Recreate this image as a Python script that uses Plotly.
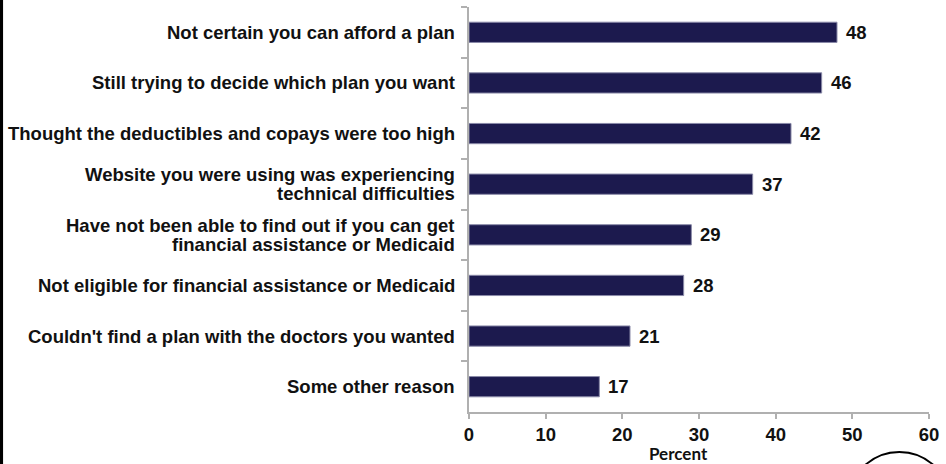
import plotly.graph_objects as go

categories = [
    "Not certain you can afford a plan",
    "Still trying to decide which plan you want",
    "Thought the deductibles and copays were too high",
    "Website you were using was experiencing\ntechnical difficulties",
    "Have not been able to find out if you can get\nfinancial assistance or Medicaid",
    "Not eligible for financial assistance or Medicaid",
    "Couldn't find a plan with the doctors you wanted",
    "Some other reason",
]
values = [48, 46, 42, 37, 29, 28, 21, 17]
x_ticks = [0, 10, 20, 30, 40, 50, 60]
x_title = "Percent"

FONT = "Liberation Sans, Arial, sans-serif"
FS = 18.5

fig = go.Figure()
fig.add_trace(go.Bar(
    x=values, y=categories, orientation="h",
    marker=dict(color="#1c1a4e", line=dict(color="#8a8aa8", width=1)),
    hoverinfo="x+y",
))

annotations = []
for cat, v in zip(categories, values):
    lines = cat.split("\n")
    n = len(lines)
    for i, ln in enumerate(lines):
        annotations.append(dict(
            x=0, xref="paper", y=cat, yref="y", text="<b>%s</b>" % ln,
            xanchor="right", yanchor="middle", xshift=-12,
            yshift=((n - 1) / 2 - i) * 19,
            showarrow=False, font=dict(family=FONT, size=FS, color="#111111"),
        ))
    annotations.append(dict(
        x=v, xref="x", y=cat, yref="y", text="<b>%d</b>" % v,
        xanchor="left", yanchor="middle", xshift=7,
        showarrow=False, font=dict(family=FONT, size=FS, color="#111111"),
    ))

W, H = 946, 464
ml, mr, mt, mb = 469, 12, 7, 52
ph = H - mt - mb
pw = W - ml - mr

annotations.append(dict(
    x=(681 - ml) / pw, xref="paper", y=(H - mb - 453) / ph, yref="paper",
    text="<b>%s</b>" % x_title, xanchor="center", yanchor="middle",
    showarrow=False, font=dict(family="Lato, Calibri, sans-serif", size=17, color="#111111"),
))

shapes = [
    dict(type="rect", xref="paper", yref="paper",
         x0=(-20 - ml) / pw, x1=(-2 - ml) / pw, y0=-0.3, y1=1.2,
         fillcolor="#000000", line=dict(width=0), layer="above"),
    dict(type="circle", xref="paper", yref="paper",
         x0=(904 - 53 - ml) / pw, x1=(904 + 53 - ml) / pw,
         y0=(H - mb - 506 - 54) / ph, y1=(H - mb - 506 + 54) / ph,
         line=dict(color="#000000", width=2)),
]

fig.update_layout(
    width=W, height=H,
    margin=dict(l=ml, r=mr, t=mt, b=mb, pad=0),
    paper_bgcolor="white", plot_bgcolor="white",
    showlegend=False, bargap=0.6,
    annotations=annotations, shapes=shapes,
    xaxis=dict(
        range=[0, 60], tickvals=x_ticks, ticktext=["<b>%d</b>" % t for t in x_ticks],
        showgrid=False, zeroline=False, showline=True, linecolor="#b0b0b0", linewidth=2,
        ticks="outside", ticklen=5, tickwidth=1.5, tickcolor="#b0b0b0",
        tickfont=dict(family=FONT, size=FS, color="#111111"),
        fixedrange=True,
    ),
    yaxis=dict(
        categoryorder="array", categoryarray=categories, autorange="reversed",
        showticklabels=False, showgrid=False, zeroline=False,
        showline=True, linecolor="#b0b0b0", linewidth=2,
        ticks="outside", tickson="boundaries", ticklen=6, tickwidth=1.5, tickcolor="#b0b0b0",
        fixedrange=True,
    ),
)

fig.write_html("out.html")
